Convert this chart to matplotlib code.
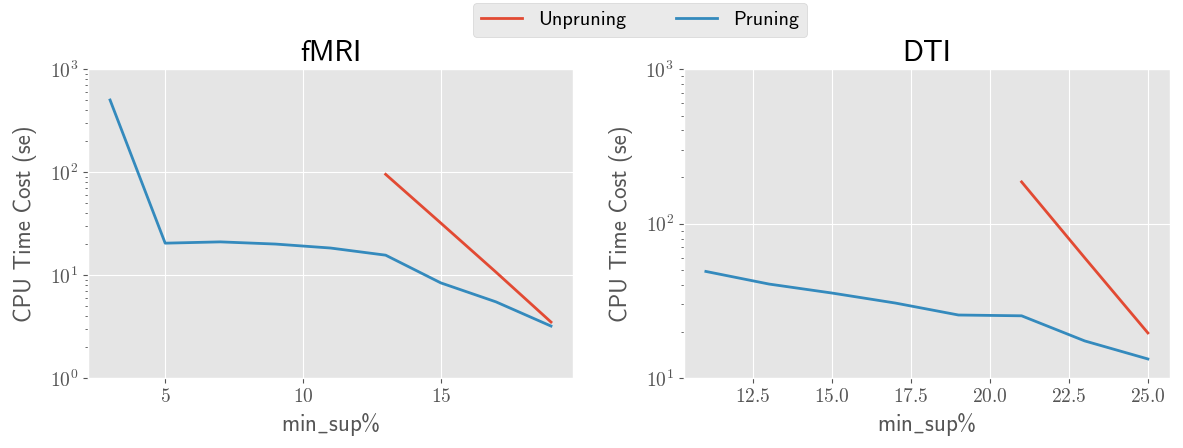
import math
import matplotlib
matplotlib.use('Agg')
import matplotlib.pyplot as plt
from matplotlib.ticker import FuncFormatter

# CPU time (seconds) vs minimum support threshold, with and without pruning
fmri_sup = [3, 5, 7, 9, 11, 13, 15, 17, 19]
fmri_pruning = [500, 20.4, 21, 20, 18.3, 15.6, 8.4, 5.5, 3.2]
fmri_unpruning_sup = [13, 15, 17, 19]
fmri_unpruning = [95, 32, 10.7, 3.5]

dti_sup = [11, 13, 15, 17, 19, 21, 23, 25]
dti_pruning = [49, 40.6, 35.5, 30.6, 25.6, 25.3, 17.4, 13.3]
dti_unpruning_sup = [21, 23, 25]
dti_unpruning = [186, 60, 19.6]

fmri_xticks = [5, 10, 15]
dti_xticks = [12.5, 15.0, 17.5, 20.0, 22.5, 25.0]

plt.style.use('ggplot')
plt.rcParams['font.family'] = ['cmss10', 'DejaVu Sans']
plt.rcParams['mathtext.fontset'] = 'cm'
plt.rcParams['axes.unicode_minus'] = False

gray = '#555555'

fig = plt.figure(figsize=(11.83, 4.48), dpi=100)
ax1 = fig.add_axes([0.0744, 0.156, 0.41, 0.69])
ax2 = fig.add_axes([0.578, 0.156, 0.411, 0.69])

panels = [
    (ax1, 'fMRI', fmri_sup, fmri_pruning, fmri_unpruning_sup, fmri_unpruning,
     (1, 1000), fmri_xticks, '%d'),
    (ax2, 'DTI', dti_sup, dti_pruning, dti_unpruning_sup, dti_unpruning,
     (10, 1000), dti_xticks, '%.1f'),
]

# powers of ten in computer-modern math
log_fmt = FuncFormatter(lambda v, p: r'$10^{%d}$' % round(math.log10(v)))

for ax, name, xs, pr, ux, up, ylim, xticks, xfmt in panels:
    l1, = ax.plot(ux, up, label='Unpruning', lw=2)
    l2, = ax.plot(xs, pr, label='Pruning', lw=2)
    ax.set_yscale('log')
    ax.set_ylim(*ylim)
    ax.set_xticks(xticks)
    ax.xaxis.set_major_formatter(FuncFormatter(lambda v, p, f=xfmt: '$' + f % v + '$'))
    ax.yaxis.set_major_formatter(log_fmt)
    ax.set_title(name, fontsize=21, color='black')
    ax.set_xlabel(r'min$\_$sup%', fontsize=16.5, color=gray)
    ax.set_ylabel('CPU Time Cost (se)', fontsize=16.5, color=gray, labelpad=9)
    ax.tick_params(axis='both', which='major', labelsize=14, labelcolor=gray)

fig.legend(handles=[l1, l2], loc='upper center', ncol=2, fontsize=14.5,
           bbox_to_anchor=(0.541, 1.0), borderaxespad=0.15, frameon=True,
           columnspacing=2.5)

fig.savefig('out.png', dpi=100)
